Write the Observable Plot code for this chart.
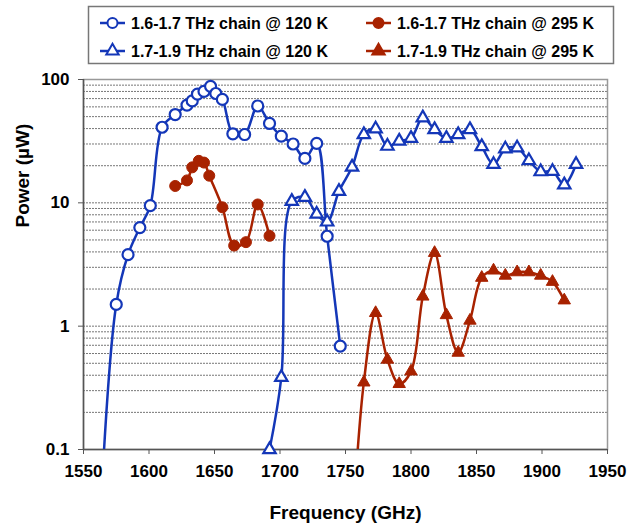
<!DOCTYPE html>
<html><head><meta charset="utf-8">
<script src="https://cdn.jsdelivr.net/npm/d3@7"></script>
<script src="https://cdn.jsdelivr.net/npm/@observablehq/plot@0.6"></script>
<style>
body{margin:0;background:#fff;font-family:"Liberation Sans",Arial,sans-serif;}
#wrap{position:relative;width:642px;height:529px;}
#legend{position:absolute;left:0;top:0;}
#chart{position:absolute;left:0;top:68px;}
</style></head>
<body><div id="wrap"><div id="legend"></div><div id="chart"></div></div>
<script>
// Data
const bcFreq = [1565,1575,1584,1593,1601,1610,1620,1629,1633,1637,1642,1647,1651,1656,1664,1673,1683,1692,1701,1710,1719,1728,1736,1746];
const bcPow  = [0.075,1.5,3.8,6.3,9.5,41,52,62,67,76,80,88,77,69,36.3,35.8,61,44,34.7,30,22.9,30.3,5.36,0.69];
const rcFreq = [1620,1629,1633,1638,1642,1646,1656,1665,1674,1683,1692];
const rcPow  = [13.7,15.2,19.4,21.9,21.2,16.6,9.2,4.5,4.8,9.7,5.4];
const btFreq = [1692,1701,1709,1719,1728,1736,1745,1755,1764,1773,1782,1791,1800,1809,1818,1827,1836,1845,1854,1863,1872,1881,1890,1899,1908,1917,1926];
const btPow  = [0.1,0.385,10.3,11.1,8.1,7.0,12.4,19.5,35.8,39.8,28.8,31.7,33.4,48.9,39.3,33.4,35.8,39.3,28.6,20.5,27.4,27.9,22.0,17.9,18.0,14.0,20.5];
const rtFreq = [1755,1764,1773,1782,1791,1800,1809,1818,1827,1836,1845,1854,1863,1872,1881,1890,1899,1908,1917];
const rtPow  = [0.02,0.35,1.28,0.536,0.34,0.43,1.74,3.93,1.23,0.61,1.11,2.47,2.83,2.57,2.74,2.74,2.57,2.29,1.62];
const seriesNames = ["1.6-1.7 THz chain @ 120 K","1.6-1.7 THz chain @ 295 K","1.7-1.9 THz chain @ 120 K","1.7-1.9 THz chain @ 295 K"];
const xTicks = [1550,1600,1650,1700,1750,1800,1850,1900,1950];
const yTicks = [0.1,1,10,100];
const yTickLabels = ["0.1","1","10","100"];
const gridVals = [0.2,0.3,0.4,0.5,0.6,0.7,0.8,0.9,1,2,3,4,5,6,7,8,9,10,20,30,40,50,60,70,80,90];
const xLabel = "Frequency (GHz)";
const yLabel = "Power (µW)";

const BLUE = "#1437b8", RED = "#a82200";
const mk = (f,p) => f.map((d,i)=>({f:d,p:p[i]}));
const bc = mk(bcFreq,bcPow), rc = mk(rcFreq,rcPow), bt = mk(btFreq,btPow), rt = mk(rtFreq,rtPow);
const vis = a => a.filter(d=>d.p>=0.1);
const lineOpts = c => ({x:"f", y:"p", stroke:c, strokeWidth:2.5, curve:"catmull-rom", clip:true});

const chart = Plot.plot({
  width:642, height:461,
  marginTop:11, marginBottom:80, marginLeft:83, marginRight:35,
  x:{domain:[1550,1950]},
  y:{type:"log", domain:[0.1,100]},
  style:{fontFamily:"'Liberation Sans', Arial, sans-serif", fontWeight:"bold", fontSize:"17px", color:"black", background:"white"},
  marks:[
    Plot.ruleY(gridVals,{stroke:"#777", strokeWidth:1, strokeDasharray:"2,1"}),
    Plot.frame({stroke:"#999", strokeWidth:1.5}),
    Plot.ruleX([1550],{stroke:"#555", strokeWidth:1.5}),
    Plot.ruleY([0.1],{stroke:"#555", strokeWidth:1.5}),
    Plot.axisX({ticks:xTicks, tickFormat:d=>String(d), tickSize:5, tickPadding:10, label:null, fontSize:17, stroke:"#555"}),
    Plot.axisY({ticks:yTicks, tickFormat:d=>yTickLabels[yTicks.indexOf(d)], tickSize:5, tickPadding:9, label:null, fontSize:17, stroke:"#555"}),
    Plot.line(bc, lineOpts(BLUE)),
    Plot.line(rc, lineOpts(RED)),
    Plot.line(bt, lineOpts(BLUE)),
    Plot.line(rt, lineOpts(RED)),
    Plot.dot(vis(bc),{x:"f", y:"p", r:5.5, fill:"white", stroke:BLUE, strokeWidth:2.2}),
    Plot.dot(vis(rc),{x:"f", y:"p", r:5.5, fill:RED, stroke:RED, strokeWidth:1}),
    Plot.dot(vis(bt),{x:"f", y:"p", r:4.6, symbol:"triangle", fill:"white", stroke:BLUE, strokeWidth:2.2}),
    Plot.dot(vis(rt),{x:"f", y:"p", r:4.6, symbol:"triangle", fill:RED, stroke:RED, strokeWidth:1}),
    Plot.text([xLabel],{text:d=>d, frameAnchor:"bottom", dy:69, fontSize:19, fill:"black"}),
    Plot.text([yLabel],{text:d=>d, frameAnchor:"left", dx:-61, dy:-37, rotate:-90, fontSize:19, fill:"black"})
  ]
});
document.getElementById("chart").appendChild(chart);

// Legend
const lg = d3.select("#legend").append("svg").attr("width",642).attr("height",68)
  .style("font-family","'Liberation Sans', Arial, sans-serif").style("font-weight","bold");
lg.append("rect").attr("x",88.5).attr("y",6.5).attr("width",525).attr("height",57)
  .attr("fill","white").attr("stroke","#777").attr("stroke-width",1.5);
const items = [
  {name:seriesNames[0], c:BLUE, sym:"circle", fill:"white", x:100, y:23},
  {name:seriesNames[1], c:RED, sym:"circle", fill:RED, x:366, y:23},
  {name:seriesNames[2], c:BLUE, sym:"triangle", fill:"white", x:100, y:51},
  {name:seriesNames[3], c:RED, sym:"triangle", fill:RED, x:366, y:51}
];
for (const it of items) {
  const g = lg.append("g");
  g.append("line").attr("x1",it.x).attr("x2",it.x+25).attr("y1",it.y).attr("y2",it.y)
    .attr("stroke",it.c).attr("stroke-width",2.5);
  if (it.sym==="circle") {
    g.append("circle").attr("cx",it.x+12.5).attr("cy",it.y).attr("r",5)
      .attr("fill",it.fill).attr("stroke",it.c).attr("stroke-width",2);
  } else {
    const sz = 4.6*4.6*Math.PI;
    g.append("path").attr("d",d3.symbol(d3.symbolTriangle, sz)())
      .attr("transform",`translate(${it.x+12.5},${it.y})`)
      .attr("fill",it.fill).attr("stroke",it.c).attr("stroke-width",2);
  }
  g.append("text").attr("x",it.x+31).attr("y",it.y).attr("dy","0.36em")
    .attr("font-size",16).attr("fill","black").text(it.name);
}
</script></body></html>
